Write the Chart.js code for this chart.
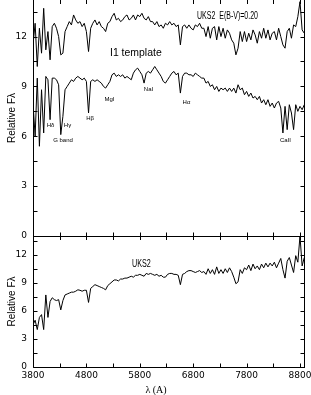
<!DOCTYPE html>
<html>
<head>
<meta charset="utf-8">
<script src="https://cdn.jsdelivr.net/npm/chart.js@4.4.0/dist/chart.umd.min.js"></script>
<style>
  body { margin: 0; background: #fff; }
  #wrap { position: relative; width: 311px; height: 395px; }
  #top { position: absolute; left: 0; top: 0; }
  #bottom { position: absolute; left: 0; top: 230px; }
</style>
</head>
<body>
<div id="wrap">
  <canvas id="top" width="311" height="245" style="width:311px;height:245px"></canvas>
  <canvas id="bottom" width="311" height="165" style="width:311px;height:165px"></canvas>
</div>
<script>
// wavelength grid (A)
var wave = [
  3800,3840,3880,3920,3960,4000,4040,4080,4120,4160,
  4200,4240,4280,4320,4360,4400,4440,4480,4520,4560,
  4600,4640,4680,4720,4760,4800,4840,4880,4920,4960,
  5000,5040,5080,5120,5160,5200,5240,5280,5320,5360,
  5400,5440,5480,5520,5560,5600,5640,5680,5720,5760,
  5800,5840,5880,5920,5960,6000,6040,6080,6120,6160,
  6200,6240,6280,6320,6360,6400,6440,6480,6520,6560,
  6600,6640,6680,6720,6760,6800,6840,6880,6920,6960,
  7000,7040,7080,7120,7160,7200,7240,7280,7320,7360,
  7400,7440,7480,7520,7560,7600,7640,7680,7720,7760,
  7800,7840,7880,7920,7960,8000,8040,8080,8120,8160,
  8200,8240,8280,8320,8360,8400,8440,8480,8520,8560,
  8600,8640,8680,8720,8760,8800,8840,8880
];

// UKS2 dereddened, E(B-V)=0.20 (top panel, upper curve)
var uksDered = [
  11.5,12.8,10.2,12.5,11.0,13.7,11.2,12.3,10.6,12.6,
  12.8,12.5,12.0,10.9,11.0,12.3,12.6,12.9,12.7,13.3,
  13.0,12.8,12.9,12.6,12.8,12.3,11.1,12.5,12.8,13.0,
  12.7,12.9,12.6,12.5,12.3,12.8,12.9,13.2,13.4,13.0,
  13.1,12.9,13.0,13.2,13.3,13.0,13.1,13.3,13.0,13.3,
  13.2,13.4,13.1,13.0,13.2,12.9,12.9,12.7,12.9,12.6,
  12.7,12.5,12.8,12.7,12.9,12.7,12.8,12.6,12.7,11.5,
  12.6,12.7,12.5,12.7,12.5,12.4,12.7,12.6,12.8,12.5,
  12.5,12.0,12.6,11.9,12.5,12.6,11.8,12.6,12.0,12.5,
  11.9,12.4,12.2,11.8,11.6,10.9,11.3,12.3,11.7,12.3,
  11.7,12.2,11.8,12.4,12.1,11.6,12.3,11.9,12.5,11.9,
  12.4,11.8,12.2,12.3,11.8,12.5,12.0,11.5,11.3,12.3,
  12.5,11.9,12.7,12.6,13.2,14.1,12.4,12.2
];

// I1 template (top panel, lower curve)
var template = [
  8.0,6.0,9.5,5.4,8.8,6.2,9.6,9.4,7.0,9.5,
  9.5,9.4,9.1,6.1,7.2,8.8,9.0,9.2,9.4,9.3,
  9.5,9.6,9.5,9.4,9.5,9.3,7.4,9.3,9.4,9.3,
  9.4,9.3,9.2,9.0,8.9,9.1,9.3,9.7,9.8,9.6,
  9.7,9.6,9.7,9.5,9.6,9.5,9.4,9.8,10.0,10.1,
  9.9,9.7,9.2,9.8,9.9,9.8,10.0,10.2,10.0,9.8,
  9.6,9.3,9.2,9.4,9.6,9.8,9.9,9.7,9.8,8.6,
  9.6,9.8,9.8,9.7,9.7,9.6,9.8,9.7,9.6,9.5,
  9.5,9.2,9.3,9.0,9.1,8.8,9.0,8.7,8.9,8.8,
  8.9,8.7,8.9,8.7,8.9,8.6,9.1,8.8,8.9,8.5,
  8.7,8.4,8.6,8.3,8.4,8.2,8.4,8.0,8.2,7.9,
  8.2,7.8,8.0,7.7,8.0,8.1,7.7,6.2,7.8,6.4,
  7.9,7.4,6.4,7.9,7.5,7.8,7.6,7.9
];

// UKS2 observed (bottom panel)
var uksObs = [
  4.5,5.0,4.0,5.3,5.6,4.0,7.7,5.3,7.0,7.4,
  7.2,7.1,7.2,6.1,7.1,7.7,7.8,7.9,8.0,8.0,
  8.1,8.25,8.2,8.1,8.2,8.2,6.9,8.4,8.6,8.8,
  8.7,8.6,8.5,8.4,8.25,8.7,8.9,9.1,9.3,9.3,
  9.2,9.4,9.4,9.5,9.5,9.6,9.7,9.6,9.8,9.8,
  9.9,9.8,9.7,10.0,9.9,10.0,9.9,9.8,9.9,9.7,
  9.8,9.6,9.6,9.9,10.0,10.0,9.9,9.9,9.8,8.8,
  9.9,10.0,10.2,10.3,10.3,10.2,10.1,10.2,10.3,10.1,
  10.2,9.9,10.5,10.0,10.4,9.9,10.7,10.0,10.4,10.0,
  10.5,10.1,10.6,10.2,9.6,8.9,9.1,10.4,10.0,10.6,
  10.4,10.9,10.3,11.0,10.5,10.8,10.4,11.0,10.6,11.1,
  10.7,11.1,10.8,11.2,10.6,11.1,11.6,10.4,9.5,11.3,
  11.7,10.9,10.1,11.9,11.2,14.0,10.8,11.7
];

var xTicks = [3800, 4800, 5800, 6800, 7800, 8800];
var yTicks = [0, 3, 6, 9, 12];

// labels placed at (wavelength, flux)
var topNotes = [
  { text: "UKS2  E(B-V)=0.20", w: 6872, f: 13.2, size: 10, sx: 0.7, align: "left" },
  { text: "I1 template", w: 5242, f: 11.0, size: 11, sx: 0.95, align: "left" },
  { text: "Hδ", w: 4128, f: 6.66, size: 6 },
  { text: "Hγ", w: 4446, f: 6.66, size: 6 },
  { text: "G band", w: 4362, f: 5.76, size: 6 },
  { text: "Hβ", w: 4868, f: 7.1, size: 6 },
  { text: "MgI", w: 5233, f: 8.2, size: 6 },
  { text: "NaI", w: 5963, f: 8.8, size: 6 },
  { text: "Hα", w: 6675, f: 8.07, size: 6 },
  { text: "CaII", w: 8529, f: 5.76, size: 6 }
];
var bottomNotes = [
  { text: "UKS2", w: 5654, f: 10.93, size: 10, sx: 0.72, align: "left" }
];

function line(ctx, x1, y1, x2, y2) { ctx.moveTo(x1, y1); ctx.lineTo(x2, y2); }

var framePlugin = {
  id: "frame",
  afterDraw: function (chart, args, opts) {
    var ctx = chart.ctx, a = chart.chartArea, xs = chart.scales.x, ys = chart.scales.y;
    var L = a.left + 0.5, R = a.right + 0.5, T = a.top + 0.5, B = a.bottom + 0.5;
    ctx.save();
    ctx.strokeStyle = "#000";
    ctx.lineWidth = 1;
    ctx.beginPath();
    line(ctx, L, a.top, L, B);
    line(ctx, R, a.top, R, B);
    line(ctx, L, B, R + 0.5, B);
    if (opts.top) line(ctx, L, T, R + 0.5, T);
    for (var v = 0; v < ys.max; v += 1.5) {
      var py = Math.round(ys.getPixelForValue(v)) + 0.5;
      line(ctx, L, py, L + 4, py);
      line(ctx, R - 4, py, R, py);
    }
    for (var w = 3800; w <= 8800; w += 500) {
      var px = Math.round(xs.getPixelForValue(w)) + 0.5;
      line(ctx, px, B, px, B - 4);
      line(ctx, px, a.top, px, a.top + 4);
    }
    ctx.stroke();
    ctx.fillStyle = "#000";
    (opts.notes || []).forEach(function (n) {
      ctx.save();
      ctx.translate(xs.getPixelForValue(n.w), ys.getPixelForValue(n.f));
      ctx.scale(n.sx || 1, 1);
      ctx.font = n.size + 'px "Liberation Sans"';
      ctx.textAlign = n.align || "center";
      ctx.textBaseline = "middle";
      ctx.fillText(n.text, 0, 0);
      ctx.restore();
    });
    if (opts.xTitle) {
      ctx.font = '10px "Liberation Serif"';
      ctx.textAlign = "center";
      ctx.textBaseline = "middle";
      ctx.fillText(opts.xTitle, 156, chart.height - 5);
    }
    ctx.restore();
  }
};

function series(vals) {
  return {
    data: wave.map(function (w, i) { return { x: w, y: vals[i] }; }),
    borderColor: "#000",
    borderWidth: 1,
    pointRadius: 0,
    fill: false,
    tension: 0
  };
}

Chart.defaults.color = "#000";
Chart.defaults.font.family = "DejaVu Sans";
Chart.defaults.font.size = 9;

function panel(id, sets, yMax, showX, pad, frameOpts) {
  return new Chart(document.getElementById(id), {
    type: "line",
    data: { datasets: sets },
    options: {
      responsive: false,
      animation: false,
      layout: { padding: pad },
      plugins: { legend: { display: false }, tooltip: { enabled: false }, frame: frameOpts },
      scales: {
        x: {
          type: "linear",
          min: 3800,
          max: 8875,
          display: showX,
          grid: { display: false, drawTicks: false },
          border: { display: false },
          ticks: { padding: 3, maxRotation: 0, callback: function (v) { return String(v); } },
          afterBuildTicks: function (s) { s.ticks = xTicks.map(function (v) { return { value: v }; }); },
          afterFit: function (s) {
            s.height = showX ? 28 : 0;
            s.paddingLeft = 0; s.paddingRight = 0;
          }
        },
        y: {
          type: "linear",
          min: 0,
          max: yMax,
          grid: { display: false, drawTicks: false },
          border: { display: false },
          ticks: { padding: 6, callback: function (v) { return String(v); } },
          afterBuildTicks: function (s) { s.ticks = yTicks.map(function (v) { return { value: v }; }); },
          afterFit: function (s) {
            s.width = 33;
            s.paddingTop = 0; s.paddingBottom = 0;
          },
          title: {
            display: true,
            text: "Relative Fλ",
            font: { family: "Liberation Sans", size: 10 },
            padding: { top: 6, bottom: 0 }
          }
        }
      }
    },
    plugins: [framePlugin]
  });
}

panel("top", [series(uksDered), series(template)], 14.2, false,
  { top: 0, right: 7, bottom: 9, left: 0 },
  { top: false, notes: topNotes });

panel("bottom", [series(uksObs)], 14, true,
  { top: 6, right: 7, bottom: 0, left: 0 },
  { top: true, notes: bottomNotes, xTitle: "λ (A)" });
</script>
</body>
</html>
